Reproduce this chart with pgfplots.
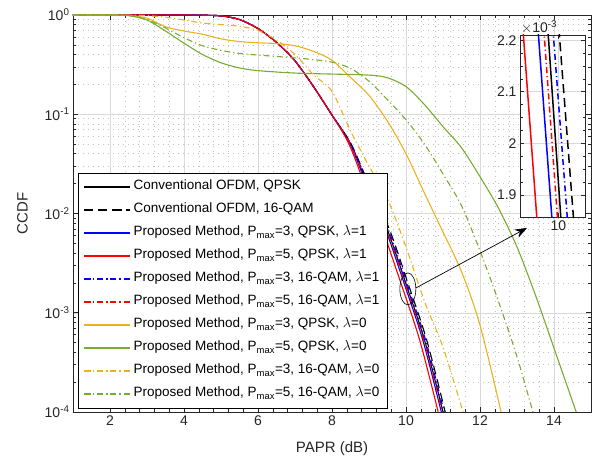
\documentclass[border=0pt]{standalone}
\usepackage{fontspec}
\setmainfont{Liberation Sans}
\usepackage{pgfplots}
\pgfplotsset{compat=1.18}
\usetikzlibrary{arrows.meta}
\definecolor{morange}{RGB}{237,177,32}
\definecolor{mgreen}{RGB}{119,172,48}
\definecolor{axgray}{RGB}{38,38,38}
\tikzset{
  dd/.style={dash pattern=on 6pt off 3pt on 1.2pt off 3pt},
  ds/.style={dash pattern=on 9pt off 5pt},
}
\begin{document}
\begin{tikzpicture}
\useasboundingbox (-73pt,-52pt) rectangle (520pt,412pt);
\begin{axis}[
  scale only axis, width=518pt, height=397pt,
  xmin=1, xmax=15, ymode=log, log basis y=10, ymin=1e-4, ymax=1,
  clip=false,
  xtick={2,4,...,14}, minor x tick num=4,
  ytick={1e-4,1e-3,1e-2,1e-1,1},
  yticklabels={10\textsuperscript{-4},10\textsuperscript{-3},10\textsuperscript{-2},10\textsuperscript{-1},10\textsuperscript{0}},
  minor ytick={2e-4,3e-4,4e-4,5e-4,6e-4,7e-4,8e-4,9e-4,
    2e-3,3e-3,4e-3,5e-3,6e-3,7e-3,8e-3,9e-3,
    2e-2,3e-2,4e-2,5e-2,6e-2,7e-2,8e-2,9e-2,
    0.2,0.3,0.4,0.5,0.6,0.7,0.8,0.9},
  /pgf/number format/assume math mode=true,
  grid=both,
  major grid style={black!15, line width=0.5pt},
  minor grid style={black!24, dash pattern=on 1pt off 4pt, line width=0.6pt},
  tick align=inside, major tick length=5pt, minor tick length=3pt,
  axis line style={axgray, line width=0.8pt},
  every tick/.style={axgray, line width=0.6pt},
  tick label style={font=\fontsize{14}{16}\selectfont, text=axgray},
  label style={font=\fontsize{15}{17}\selectfont, text=axgray},
  xlabel={PAPR (dB)}, ylabel={CCDF},
  xlabel style={yshift=-9pt}, ylabel style={yshift=10pt},
  legend style={at={(0.0097,0.01)}, anchor=south west,
    font=\fontsize{13.5}{15}\selectfont,
    cells={anchor=west}, row sep=9pt, inner xsep=5pt, inner ysep=7pt,
    nodes={inner xsep=3pt, inner ysep=0pt, text height=10pt, text depth=4pt}},
  legend image code/.code={\draw[mark repeat=2,mark phase=2,#1]
    plot coordinates {(0pt,0pt) (23pt,0pt) (46pt,0pt)};},
  legend image post style={line width=1.4pt},
]
% lambda = 1 curves
\addplot[color=black, line width=1.1pt, smooth] coordinates {
 (1,1) (4,0.999) (4.5,0.995) (5,0.98) (5.5,0.9) (6,0.73) (6.5,0.53) (7,0.345)
 (7.5,0.19) (8,0.098) (8.5,0.05) (9,0.018) (9.5,0.0068) (10,0.00195) (10.5,5.3e-4) (11,1e-4)};
\addlegendentry{Conventional OFDM, QPSK}
\addplot[color=black, line width=1.1pt, ds, smooth] coordinates {
 (1,1) (4,0.999) (4.5,0.995) (5,0.98) (5.5,0.9) (6,0.73) (6.5,0.53) (7,0.345)
 (7.5,0.19) (8,0.098) (8.52,0.05) (9.04,0.018) (9.56,0.0068) (10.06,0.00195) (10.56,5.3e-4) (11.06,1e-4)};
\addlegendentry{Conventional OFDM, 16-QAM}
\addplot[color=blue, line width=1.1pt, solid, smooth] coordinates {
 (1,1) (4,0.999) (4.5,0.995) (5,0.98) (5.5,0.9) (6,0.73) (6.5,0.53) (7,0.345)
 (7.5,0.19) (8,0.098) (8.49,0.05) (8.97,0.018) (9.455,0.0068) (9.955,0.00195) (10.455,5.3e-4) (10.955,1e-4)};
\addlegendentry{Proposed Method, P\textsubscript{max}=3, QPSK, $\lambda$=1}
\addplot[color=red, line width=1.1pt, solid, smooth] coordinates {
 (1,1) (4,0.999) (4.5,0.995) (5,0.98) (5.5,0.9) (6,0.73) (6.5,0.53) (7,0.345)
 (7.5,0.19) (8,0.098) (8.46,0.05) (8.92,0.018) (9.37,0.0068) (9.87,0.00195) (10.37,5.3e-4) (10.87,1e-4)};
\addlegendentry{Proposed Method, P\textsubscript{max}=5, QPSK, $\lambda$=1}
\addplot[color=blue, line width=1.1pt, dd, smooth] coordinates {
 (1,1) (4,0.999) (4.5,0.995) (5,0.98) (5.5,0.9) (6,0.73) (6.5,0.53) (7,0.345)
 (7.5,0.19) (8,0.098) (8.51,0.05) (9.02,0.018) (9.53,0.0068) (10.03,0.00195) (10.53,5.3e-4) (11.03,1e-4)};
\addlegendentry{Proposed Method, P\textsubscript{max}=3, 16-QAM, $\lambda$=1}
\addplot[color=red, line width=1.1pt, dd, smooth] coordinates {
 (1,1) (4,0.999) (4.5,0.995) (5,0.98) (5.5,0.9) (6,0.73) (6.5,0.53) (7,0.345)
 (7.5,0.19) (8,0.098) (8.494,0.05) (8.988,0.018) (9.48,0.0068) (9.98,0.00195) (10.48,5.3e-4) (10.98,1e-4)};
\addlegendentry{Proposed Method, P\textsubscript{max}=5, 16-QAM, $\lambda$=1}
% lambda = 0 curves
\addplot[color=morange, line width=1.1pt, solid, smooth] coordinates {
 (1,1) (2,1) (2.5,0.99) (3,0.93) (3.5,0.76) (4,0.69) (4.5,0.64) (5,0.575) (5.5,0.54)
 (6,0.525) (6.5,0.515) (7,0.49) (7.5,0.43) (8,0.35) (8.5,0.235) (9,0.155) (9.5,0.085)
 (10,0.04) (10.5,0.016) (11,0.0065) (11.5,0.0026) (12,7.5e-4) (12.57,1e-4)};
\addlegendentry{Proposed Method, P\textsubscript{max}=3, QPSK, $\lambda$=0}
\addplot[color=mgreen, line width=1.1pt, solid, smooth] coordinates {
 (1,1) (2,1) (2.5,0.985) (3,0.89) (3.5,0.69) (4,0.52) (4.5,0.4) (5,0.33) (5.5,0.293)
 (6,0.275) (7,0.26) (8,0.254) (9,0.248) (9.5,0.233) (10,0.19) (10.5,0.125) (11,0.075)
 (11.5,0.046) (12,0.0235) (12.5,0.0113) (13,0.0046) (13.5,0.0015) (14,4.4e-4) (14.6,1e-4)};
\addlegendentry{Proposed Method, P\textsubscript{max}=5, QPSK, $\lambda$=0}
\addplot[color=morange, line width=1.1pt, dd, smooth] coordinates {
 (1,1) (2.5,0.998) (3,0.985) (3.5,0.95) (4,0.89) (4.5,0.83) (5,0.8) (5.5,0.77) (6,0.7)
 (6.5,0.56) (7,0.4) (7.5,0.25) (8,0.17) (8.5,0.068) (9,0.03) (9.5,0.014) (10,0.0046)
 (10.5,0.0013) (11,4.5e-4) (11.54,1e-4)};
\addlegendentry{Proposed Method, P\textsubscript{max}=3, 16-QAM, $\lambda$=0}
\addplot[color=mgreen, line width=1.1pt, dd, smooth] coordinates {
 (1,1) (2,1) (2.5,0.99) (3,0.9) (3.5,0.74) (4,0.59) (4.5,0.49) (5,0.44) (5.5,0.41)
 (6,0.395) (7,0.37) (7.5,0.355) (8,0.335) (8.5,0.29) (9,0.215) (9.5,0.14) (10,0.088)
 (10.5,0.05) (11,0.025) (11.5,0.012) (12,0.0042) (12.5,0.0013) (13,3.6e-4) (13.43,1e-4)};
\addlegendentry{Proposed Method, P\textsubscript{max}=5, 16-QAM, $\lambda$=0}
% zoom marker and arrow
\draw[black, line width=0.6pt] (axis cs:10.05,1.74e-3) ellipse [x radius=8pt, y radius=16pt];
\draw[black, line width=0.7pt, -{Stealth[length=12pt,width=9pt]}]
  (axis cs:10.27,1.78e-3) -- (axis cs:13.27,7.16e-3);
\end{axis}
% inset
\begin{axis}[
  at={(447pt,195pt)}, anchor=south west,
  scale only axis, width=65pt, height=182pt,
  xmin=9.814, xmax=10.129, ymin=1.857e-3, ymax=2.21e-3,
  xtick={10}, xticklabels={10},
  ytick={1.9e-3,2e-3,2.1e-3,2.2e-3}, yticklabels={1.9,2,2.1,2.2},
  minor y tick num=3,
  scaled y ticks=false, scaled x ticks=false,
  axis background/.style={fill=white},
  grid=major, major grid style={black!15, line width=0.5pt},
  tick align=inside, major tick length=4pt, minor tick length=2.5pt,
  axis line style={axgray, line width=0.8pt},
  every tick/.style={axgray, line width=0.6pt},
  tick label style={font=\fontsize{14}{16}\selectfont, text=axgray},
  clip mode=individual,
]
\addplot[color=red, line width=1.5pt] coordinates {(9.823,2.25e-3) (9.902,1.82e-3)};
\addplot[color=blue, line width=1.5pt] coordinates {(9.896,2.25e-3) (9.975,1.82e-3)};
\addplot[color=red, line width=1.5pt, dd] coordinates {(9.924,2.25e-3) (10.002,1.82e-3)};
\addplot[color=black, line width=1.5pt] coordinates {(9.944,2.25e-3) (10.018,1.82e-3)};
\addplot[color=blue, line width=1.5pt, dd] coordinates {(9.968,2.25e-3) (10.050,1.82e-3)};
\addplot[color=black, line width=1.5pt, ds] coordinates {(9.997,2.25e-3) (10.080,1.82e-3)};
\node[anchor=south west, inner sep=1pt, text=axgray] at (rel axis cs:0,1)
  {\fontsize{14}{16}\selectfont$\times$10\textsuperscript{-3}};
\end{axis}
\end{tikzpicture}
\end{document}
